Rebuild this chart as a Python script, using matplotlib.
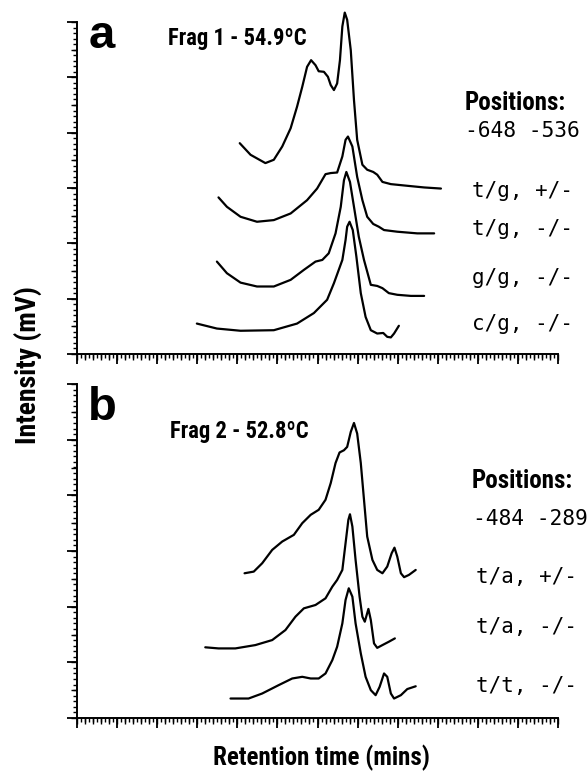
import matplotlib
matplotlib.use('Agg')
import matplotlib.pyplot as plt
from matplotlib.ticker import MultipleLocator, NullFormatter
from matplotlib import font_manager

# ---------------- data (retention time in mins, intensity in arbitrary mV units) -------------
# Panel a: Frag 1 - 54.9ºC
a_tg_pm_x = [4.06, 4.33, 4.70, 4.91, 5.12, 5.33, 5.49, 5.62, 5.74, 5.84, 5.95, 6.03, 6.16, 6.26,
             6.33, 6.41, 6.49, 6.56, 6.62, 6.68, 6.74, 6.83, 6.91, 6.99, 7.12, 7.24, 7.39, 7.49,
             7.62, 7.83, 8.24, 8.66, 9.08]
a_tg_pm_y = [3.81, 3.60, 3.45, 3.51, 3.75, 4.08, 4.47, 4.83, 5.19, 5.31, 5.22, 5.11, 5.10, 5.01,
             4.86, 4.77, 4.89, 5.31, 5.92, 6.17, 6.04, 5.49, 4.59, 3.87, 3.42, 3.33, 3.29, 3.24,
             3.11, 3.07, 3.04, 3.01, 2.99]

a_tg_mm_x = [3.53, 3.74, 4.08, 4.49, 4.91, 5.33, 5.74, 5.99, 6.20, 6.33, 6.49, 6.62, 6.70, 6.76,
             6.87, 6.99, 7.12, 7.24, 7.39, 7.53, 7.66, 7.99, 8.49, 8.91]
a_tg_mm_y = [2.83, 2.66, 2.48, 2.39, 2.42, 2.54, 2.78, 2.99, 3.25, 3.27, 3.28, 3.57, 3.87, 3.93,
             3.75, 3.20, 2.78, 2.48, 2.35, 2.30, 2.24, 2.21, 2.18, 2.18]

a_gg_mm_x = [3.49, 3.74, 4.08, 4.49, 4.91, 5.33, 5.66, 5.95, 6.12, 6.28, 6.45, 6.58, 6.66, 6.72,
             6.81, 6.91, 7.03, 7.16, 7.33, 7.49, 7.62, 7.78, 7.99, 8.33, 8.66]
a_gg_mm_y = [1.67, 1.46, 1.29, 1.22, 1.22, 1.34, 1.52, 1.67, 1.70, 1.82, 2.18, 2.66, 3.14, 3.29,
             3.11, 2.66, 2.12, 1.70, 1.25, 1.23, 1.19, 1.10, 1.07, 1.05, 1.05]

a_cg_mm_x = [2.99, 3.49, 4.08, 4.91, 5.49, 5.91, 6.24, 6.41, 6.53, 6.62, 6.70, 6.74, 6.80, 6.88,
             6.97, 7.08, 7.20, 7.33, 7.49, 7.64, 7.74, 7.83, 7.91, 8.03]
a_cg_mm_y = [0.55, 0.46, 0.42, 0.43, 0.55, 0.74, 0.98, 1.28, 1.52, 1.70, 2.06, 2.30, 2.39, 2.24,
             1.76, 1.10, 0.67, 0.43, 0.37, 0.38, 0.31, 0.30, 0.37, 0.51]

# Panel b: Frag 2 - 52.8ºC
b_ta_pm_x = [4.18, 4.41, 4.62, 4.87, 5.12, 5.41, 5.62, 5.83, 6.03, 6.20, 6.33, 6.45, 6.55, 6.66,
             6.74, 6.83, 6.91, 6.99, 7.08, 7.16, 7.24, 7.37, 7.49, 7.62, 7.74, 7.85, 7.92, 7.99,
             8.08, 8.16, 8.28, 8.45]
b_ta_pm_y = [2.60, 2.63, 2.78, 3.02, 3.17, 3.29, 3.50, 3.65, 3.74, 3.92, 4.22, 4.58, 4.77, 4.81,
             4.87, 5.14, 5.30, 5.11, 4.58, 3.92, 3.26, 2.84, 2.66, 2.60, 2.72, 2.96, 3.06, 2.90,
             2.60, 2.53, 2.57, 2.66]

b_ta_mm_x = [3.20, 3.53, 3.95, 4.45, 4.87, 5.20, 5.45, 5.66, 5.95, 6.20, 6.37, 6.49, 6.62, 6.70,
             6.77, 6.81, 6.87, 6.95, 7.05, 7.12, 7.18, 7.27, 7.33, 7.41, 7.49, 7.62, 7.78, 7.93]
b_ta_mm_y = [1.27, 1.25, 1.25, 1.31, 1.40, 1.58, 1.82, 1.97, 2.03, 2.15, 2.36, 2.48, 2.66, 3.14,
             3.56, 3.66, 3.44, 2.84, 2.18, 1.82, 1.73, 1.96, 1.76, 1.34, 1.26, 1.31, 1.37, 1.43]

b_tt_mm_x = [3.83, 4.28, 4.62, 5.03, 5.37, 5.62, 5.83, 6.03, 6.20, 6.37, 6.49, 6.62, 6.70, 6.78,
             6.87, 6.95, 7.08, 7.20, 7.33, 7.45, 7.55, 7.66, 7.74, 7.83, 7.91, 8.08, 8.24, 8.45]
b_tt_mm_y = [0.35, 0.35, 0.44, 0.59, 0.71, 0.74, 0.71, 0.71, 0.80, 1.04, 1.28, 1.70, 2.12, 2.33,
             2.18, 1.70, 1.16, 0.74, 0.50, 0.41, 0.56, 0.80, 0.74, 0.44, 0.35, 0.41, 0.52, 0.57]

a_labels = ["t/g, +/-", "t/g, -/-", "g/g, -/-", "c/g, -/-"]
b_labels = ["t/a, +/-", "t/a, -/-", "t/t, -/-"]
a_positions = "-648 -536"
b_positions = "-484 -289"
a_title = "Frag 1 - 54.9ºC"
b_title = "Frag 2 - 52.8ºC"

# ---------------- fonts ----------------
fonts = font_manager.fontManager.ttflist
COND = 'Liberation Sans'
for cand in ['Liberation Sans Narrow', 'Arial Narrow', 'Roboto Condensed', 'PT Sans Narrow',
             'Fira Sans Condensed', 'Encode Sans Condensed', 'Barlow Semi Condensed', 'Asap Condensed']:
    if any(f.name == cand and (f.weight == 700 or f.weight == 'bold') for f in fonts):
        COND = cand
        break
BOLD = 'Liberation Sans'
MONO = 'DejaVu Sans Mono'

# ---------------- figure ----------------
W, H = 587, 775
fig = plt.figure(figsize=(W / 100, H / 100), dpi=100)


def fx(x):
    return x / W


def fy(y):
    return 1 - y / H


def make_axes(top_px, bot_px):
    left, right = 77, 558
    ax = fig.add_axes([fx(left), fy(bot_px), (right - left) / W, (bot_px - top_px) / H])
    ax.set_xlim(0, 12)
    ax.set_ylim(0, 6)
    for s in ('top', 'right'):
        ax.spines[s].set_visible(False)
    for s in ('left', 'bottom'):
        ax.spines[s].set_linewidth(1.4)
    ax.xaxis.set_major_locator(MultipleLocator(1))
    ax.xaxis.set_minor_locator(MultipleLocator(0.1))
    ax.yaxis.set_major_locator(MultipleLocator(1))
    ax.yaxis.set_minor_locator(MultipleLocator(0.1))
    ax.xaxis.set_major_formatter(NullFormatter())
    ax.yaxis.set_major_formatter(NullFormatter())
    ax.tick_params(which='major', direction='out', length=7, width=1.3)
    ax.tick_params(which='minor', direction='out', length=2.8, width=1.0)
    # medium ticks
    sx = ax.secondary_xaxis('bottom')
    sx.spines['bottom'].set_visible(False)
    sx.xaxis.set_major_locator(MultipleLocator(0.2))
    sx.xaxis.set_major_formatter(NullFormatter())
    sx.tick_params(which='major', direction='out', length=4.2, width=1.0)
    sx.tick_params(which='minor', length=0)
    sy = ax.secondary_yaxis('left')
    sy.spines['left'].set_visible(False)
    sy.yaxis.set_major_locator(MultipleLocator(0.5))
    sy.yaxis.set_major_formatter(NullFormatter())
    sy.tick_params(which='major', direction='out', length=4.5, width=1.0)
    sy.tick_params(which='minor', length=0)
    return ax


ax_a = make_axes(22, 354)
ax_b = make_axes(384, 718)

line_kw = dict(color='black', lw=1.6, solid_joinstyle='round', solid_capstyle='round', clip_on=False)
for xs, ys in [(a_tg_pm_x, a_tg_pm_y), (a_tg_mm_x, a_tg_mm_y), (a_gg_mm_x, a_gg_mm_y), (a_cg_mm_x, a_cg_mm_y)]:
    ax_a.plot(xs, ys, **line_kw)
for xs, ys in [(b_ta_pm_x, b_ta_pm_y), (b_ta_mm_x, b_ta_mm_y), (b_tt_mm_x, b_tt_mm_y)]:
    ax_b.plot(xs, ys, **line_kw)

# ---------------- text ----------------
fig.text(fx(89), fy(48), "a", fontsize=34, fontweight='bold', family=BOLD, va='baseline', ha='left')
fig.text(fx(88), fy(420), "b", fontsize=34, fontweight='bold', family=BOLD, va='baseline', ha='left')
fig.text(fx(168), fy(45), a_title, fontsize=16.3, fontweight='bold', family=COND, va='baseline', ha='left')
fig.text(fx(170), fy(438), b_title, fontsize=16.3, fontweight='bold', family=COND, va='baseline', ha='left')

fig.text(fx(465), fy(110), "Positions:", fontsize=18, fontweight='bold', family=COND, va='baseline', ha='left')
fig.text(fx(465), fy(137), a_positions, fontsize=15.3, family=MONO, va='baseline', ha='left')
for lab, yb in zip(a_labels, [197, 235, 284, 330]):
    fig.text(fx(472), fy(yb), lab, fontsize=15, family=MONO, va='baseline', ha='left')

fig.text(fx(472), fy(488), "Positions:", fontsize=18, fontweight='bold', family=COND, va='baseline', ha='left')
fig.text(fx(473), fy(525), b_positions, fontsize=15.3, family=MONO, va='baseline', ha='left')
for lab, yb in zip(b_labels, [583, 633, 692]):
    fig.text(fx(476), fy(yb), lab, fontsize=15, family=MONO, va='baseline', ha='left')

fig.text(fx(28), fy(365), "Intensity (mV)", fontsize=20, fontweight='bold', family=COND,
         rotation=90, va='center', ha='center')
fig.text(fx(321), fy(765), "Retention time (mins)", fontsize=18, fontweight='bold', family=COND,
         va='baseline', ha='center')

fig.savefig('out.png', dpi=100)
